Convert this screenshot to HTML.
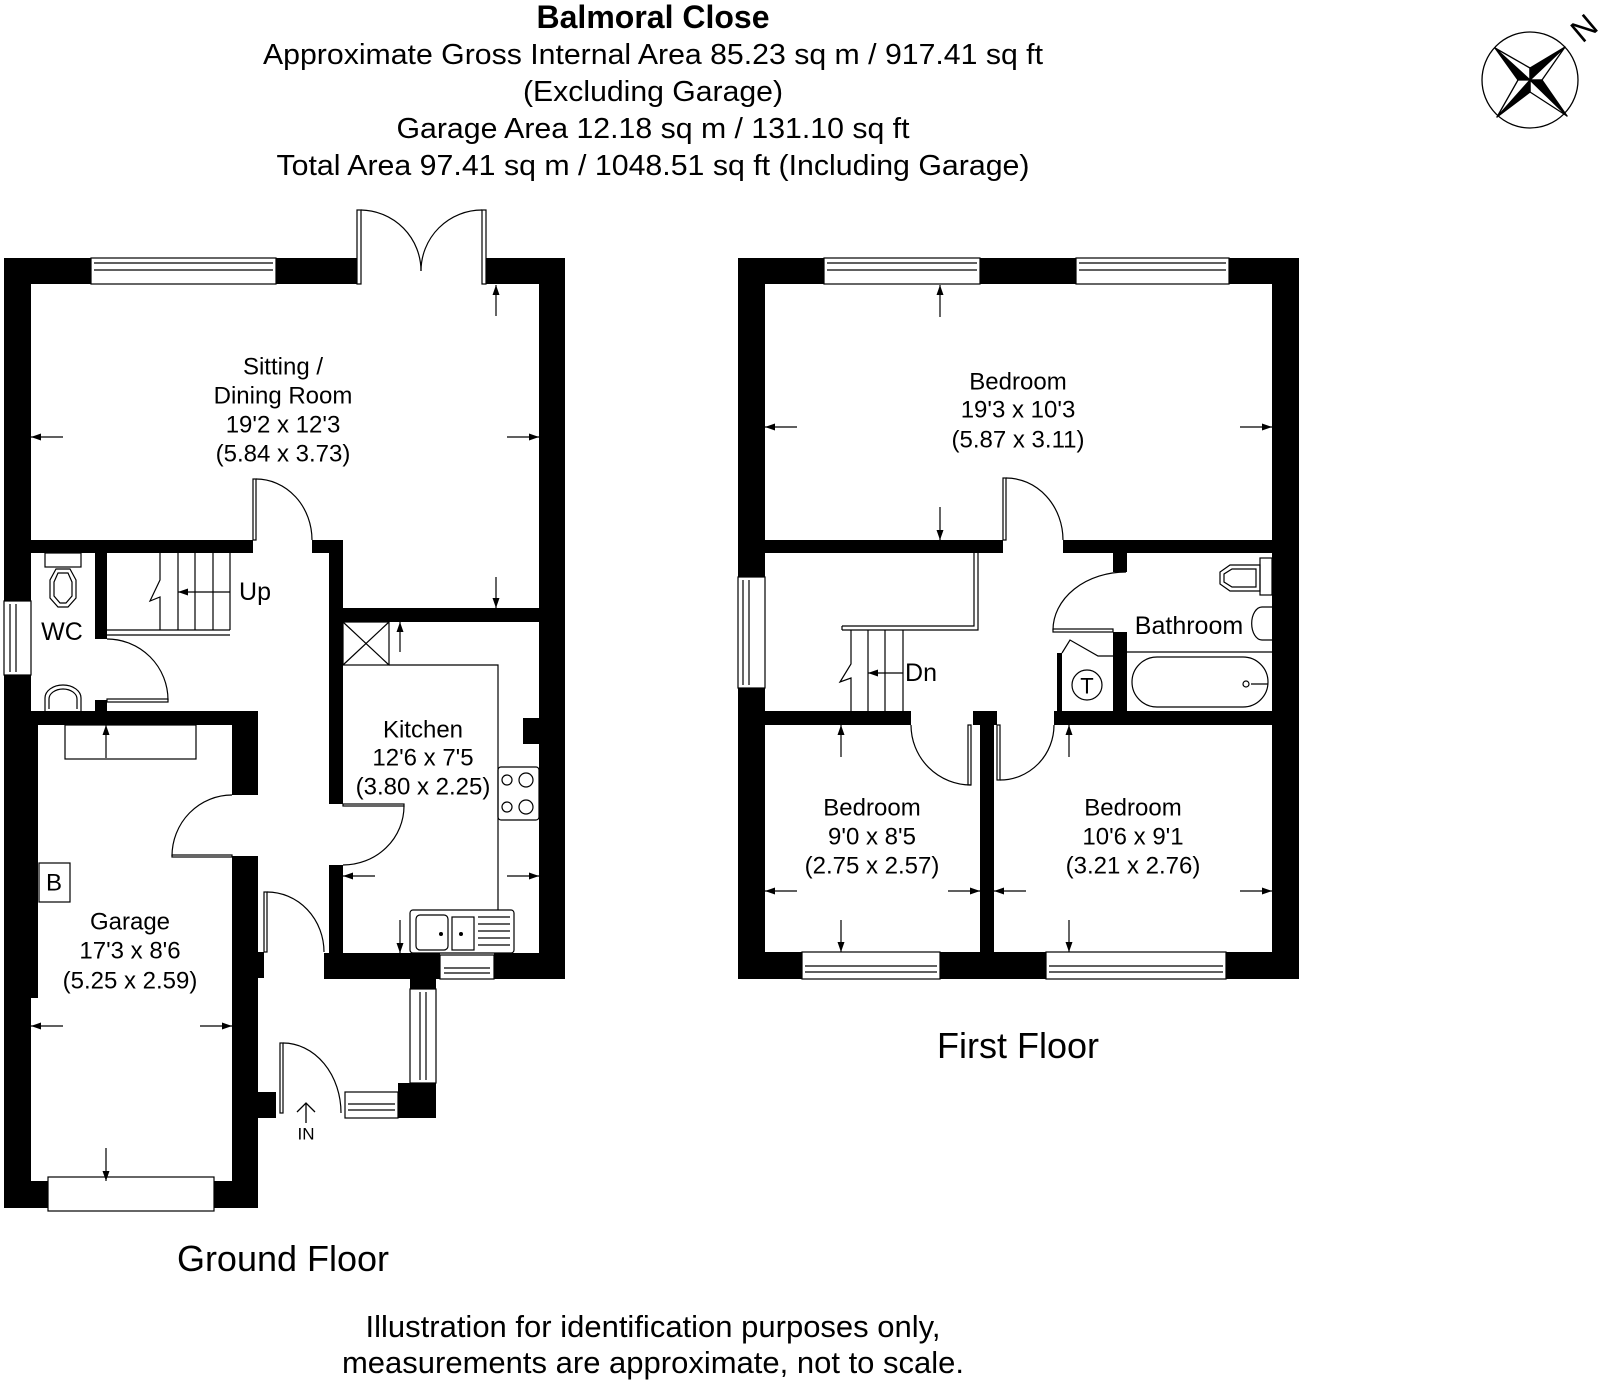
<!DOCTYPE html>
<html><head><meta charset="utf-8"><style>
html,body{margin:0;padding:0;background:#fff;}
svg{display:block;}
text{font-family:"Liberation Sans",Arial,sans-serif;fill:#000;}
</style></head><body>
<svg width="1608" height="1384" viewBox="0 0 1608 1384" xmlns="http://www.w3.org/2000/svg">
<defs>
<marker id="ah" viewBox="0 0 10 10" refX="10" refY="5" markerWidth="10" markerHeight="10" markerUnits="userSpaceOnUse" orient="auto"><path d="M0,1.5 L10,5 L0,8.5 z" fill="#000"/></marker>
</defs>
<rect width="1608" height="1384" fill="#fff"/>

<!-- Titles -->
<g text-anchor="middle">
<text x="653" y="28" font-size="32" font-weight="bold">Balmoral Close</text>
<text x="653" y="64" font-size="29" textLength="780" lengthAdjust="spacingAndGlyphs">Approximate Gross Internal Area 85.23 sq m / 917.41 sq ft</text>
<text x="653" y="101" font-size="29" textLength="260" lengthAdjust="spacingAndGlyphs">(Excluding Garage)</text>
<text x="653" y="138" font-size="29" textLength="513" lengthAdjust="spacingAndGlyphs">Garage Area 12.18 sq m / 131.10 sq ft</text>
<text x="653" y="175" font-size="29" textLength="753" lengthAdjust="spacingAndGlyphs">Total Area 97.41 sq m / 1048.51 sq ft (Including Garage)</text>
<text x="283" y="1271" font-size="36">Ground Floor</text>
<text x="1018" y="1058" font-size="36">First Floor</text>
<text x="653" y="1337" font-size="31">Illustration for identification purposes only,</text>
<text x="653" y="1373" font-size="31">measurements are approximate, not to scale.</text>
</g>

<!-- Compass -->
<g stroke="#000" stroke-width="1.3" stroke-linejoin="round">
<circle cx="1530" cy="80" r="48" fill="none"/>
<polygon points="1530,80 1495,48 1518,80" fill="#000"/>
<polygon points="1530,80 1495,48 1530,68" fill="#fff"/>
<polygon points="1530,80 1565,47 1530,68" fill="#000"/>
<polygon points="1530,80 1565,47 1542,80" fill="#fff"/>
<polygon points="1530,80 1567,116 1542,80" fill="#000"/>
<polygon points="1530,80 1567,116 1530,92" fill="#fff"/>
<polygon points="1530,80 1497,117 1530,92" fill="#000"/>
<polygon points="1530,80 1497,117 1518,80" fill="#fff"/>
</g>
<text x="1584" y="28" font-size="32" transform="rotate(-40 1584 28)" text-anchor="middle" dominant-baseline="central">N</text>

<!-- ================= GROUND FLOOR ================= -->
<g fill="#000">
<rect x="4" y="258" width="87" height="26"/>
<rect x="276" y="258" width="81" height="26"/>
<rect x="486" y="258" width="79" height="26"/>
<rect x="539" y="258" width="26" height="721"/>
<rect x="4" y="258" width="27" height="343"/>
<rect x="4" y="675" width="27" height="533"/>
<rect x="31" y="725" width="7" height="273"/>
<rect x="31" y="540" width="222" height="13"/>
<rect x="312" y="540" width="31" height="13"/>
<rect x="95" y="553" width="12" height="86"/>
<rect x="95" y="700" width="12" height="11"/>
<rect x="4" y="711" width="254" height="14"/>
<rect x="232" y="711" width="26" height="84"/>
<rect x="232" y="856" width="26" height="352"/>
<rect x="258" y="952" width="6" height="26"/>
<rect x="4" y="1181" width="44" height="27"/>
<rect x="214" y="1181" width="44" height="27"/>
<rect x="258" y="1092" width="18" height="26"/>
<rect x="329" y="540" width="14" height="264"/>
<rect x="329" y="865" width="14" height="100"/>
<rect x="343" y="608" width="196" height="14"/>
<rect x="523" y="718" width="16" height="26"/>
<rect x="324" y="953" width="116" height="26"/>
<rect x="494" y="953" width="71" height="26"/>
<rect x="410" y="979" width="26" height="10"/>
<rect x="398" y="1083" width="38" height="35"/>
</g>
<g fill="none" stroke="#000" stroke-width="1.2">
<rect x="91" y="258" width="185" height="26"/>
<line x1="94" y1="263" x2="273" y2="263"/><line x1="94" y1="270" x2="273" y2="270"/>
<rect x="357" y="210" width="4" height="74"/>
<rect x="482" y="210" width="4" height="74"/>
<path d="M361,210 A61,61 0 0 1 421,271"/>
<path d="M482,210 A61,61 0 0 0 421,271"/>
<rect x="4" y="601" width="27" height="74"/>
<line x1="10" y1="604" x2="10" y2="672"/><line x1="16" y1="604" x2="16" y2="672"/>
<rect x="253" y="479" width="3" height="61"/>
<path d="M256,479 A56,61 0 0 1 312,540"/>
<rect x="45" y="553" width="36" height="14"/>
<path d="M56,569 L70,569 L76,580 L76,598 L68,607 L58,607 L50,598 L50,580 Z"/>
<path d="M58,573 L68,573 L72,582 L72,596 L66,603 L60,603 L54,596 L54,582 Z"/>
<path d="M45,711 L45,698 A18,13 0 0 1 81,698 L81,711"/>
<path d="M49,709 L49,699 A14,10 0 0 1 77,699 L77,709"/>
<line x1="107" y1="630" x2="230" y2="630"/><line x1="107" y1="635" x2="230" y2="635"/>
<line x1="178" y1="553" x2="178" y2="630"/><line x1="195" y1="553" x2="195" y2="630"/>
<line x1="213" y1="553" x2="213" y2="630"/><line x1="230" y1="553" x2="230" y2="630"/>
<path d="M160,553 L160,580 L150,601 L160,597 L160,630"/>
<line x1="230" y1="592" x2="178" y2="592" marker-end="url(#ah)"/>
<rect x="107" y="699" width="61" height="3"/>
<path d="M107,639 A61,61 0 0 1 168,700"/>
<rect x="65" y="725" width="131" height="34"/>
<rect x="172" y="855" width="60" height="2"/>
<path d="M172,856 A60,61 0 0 1 232,795"/>
<rect x="343" y="804" width="61" height="2"/>
<path d="M404,806 A61,59 0 0 1 343,865"/>
<rect x="343" y="622" width="46" height="43"/>
<line x1="343" y1="622" x2="389" y2="665"/><line x1="389" y1="622" x2="343" y2="665"/>
<polyline points="389,665 498,665 498,910"/>
<rect x="498" y="767" width="41" height="53" rx="3"/>
<circle cx="507" cy="780" r="5"/><circle cx="526" cy="780" r="7"/>
<circle cx="507" cy="807" r="5"/><circle cx="526" cy="807" r="7"/>
<rect x="410" y="910" width="104" height="43" rx="3"/>
<rect x="416" y="915" width="32" height="35" rx="4"/>
<rect x="452" y="917" width="22" height="33"/>
<line x1="478" y1="917" x2="510" y2="917"/><line x1="478" y1="924" x2="510" y2="924"/>
<line x1="478" y1="931" x2="510" y2="931"/><line x1="478" y1="938" x2="510" y2="938"/>
<line x1="478" y1="945" x2="510" y2="945"/>
<rect x="440" y="955" width="54" height="24"/>
<line x1="444" y1="968" x2="490" y2="968"/><line x1="444" y1="973" x2="490" y2="973"/>
<rect x="39" y="863" width="31" height="39"/>
<rect x="264" y="892" width="3" height="60"/>
<path d="M267,892 A57,60 0 0 1 324,952"/>
<rect x="410" y="989" width="26" height="94"/>
<line x1="420" y1="992" x2="420" y2="1080"/><line x1="426" y1="992" x2="426" y2="1080"/>
<rect x="345" y="1092" width="53" height="26"/>
<line x1="348" y1="1104" x2="395" y2="1104"/><line x1="348" y1="1110" x2="395" y2="1110"/>
<rect x="280" y="1043" width="3" height="70"/>
<path d="M283,1043 A58,70 0 0 1 341,1113"/>
<rect x="48" y="1177" width="166" height="34"/>
</g>
<g stroke="#000" stroke-width="1.3" fill="none">
<line x1="306" y1="1123" x2="306" y2="1103"/>
<polyline points="297,1112 306,1103 315,1112"/>
</g>
<g fill="#000">
<circle cx="441" cy="934" r="2"/><circle cx="461" cy="934" r="2"/>
</g>
<g stroke="#000" stroke-width="1.2">
<line x1="496" y1="316" x2="496" y2="285" marker-end="url(#ah)"/>
<line x1="63" y1="437" x2="31" y2="437" marker-end="url(#ah)"/>
<line x1="507" y1="437" x2="539" y2="437" marker-end="url(#ah)"/>
<line x1="496" y1="577" x2="496" y2="608" marker-end="url(#ah)"/>
<line x1="400" y1="652" x2="400" y2="622" marker-end="url(#ah)"/>
<line x1="106" y1="758" x2="106" y2="725" marker-end="url(#ah)"/>
<line x1="375" y1="876" x2="343" y2="876" marker-end="url(#ah)"/>
<line x1="507" y1="876" x2="539" y2="876" marker-end="url(#ah)"/>
<line x1="400" y1="920" x2="400" y2="953" marker-end="url(#ah)"/>
<line x1="63" y1="1026" x2="31" y2="1026" marker-end="url(#ah)"/>
<line x1="200" y1="1026" x2="232" y2="1026" marker-end="url(#ah)"/>
<line x1="106" y1="1148" x2="106" y2="1181" marker-end="url(#ah)"/>
</g>
<g font-size="24" text-anchor="middle" dominant-baseline="central">
<text x="283" y="367">Sitting /</text>
<text x="283" y="396">Dining Room</text>
<text x="283" y="425">19'2 x 12'3</text>
<text x="283" y="454">(5.84 x 3.73)</text>
<text x="62" y="632" font-size="25">WC</text>
<text x="255" y="592" font-size="25">Up</text>
<text x="423" y="730">Kitchen</text>
<text x="423" y="758">12'6 x 7'5</text>
<text x="423" y="787">(3.80 x 2.25)</text>
<text x="54" y="883">B</text>
<text x="130" y="922">Garage</text>
<text x="130" y="951">17'3 x 8'6</text>
<text x="130" y="981">(5.25 x 2.59)</text>
<text x="306" y="1134" font-size="17">IN</text>
</g>

<!-- ================= FIRST FLOOR ================= -->
<g fill="#000">
<rect x="738" y="258" width="86" height="26"/>
<rect x="980" y="258" width="96" height="26"/>
<rect x="1229" y="258" width="70" height="26"/>
<rect x="1272" y="258" width="27" height="721"/>
<rect x="738" y="258" width="27" height="319"/>
<rect x="738" y="688" width="27" height="291"/>
<rect x="738" y="952" width="64" height="27"/>
<rect x="940" y="952" width="106" height="27"/>
<rect x="1226" y="952" width="73" height="27"/>
<rect x="765" y="540" width="238" height="13"/>
<rect x="1063" y="540" width="209" height="13"/>
<rect x="1113" y="553" width="14" height="19"/>
<rect x="1113" y="632" width="14" height="79"/>
<rect x="1057" y="653" width="5" height="58"/>
<rect x="765" y="711" width="146" height="14"/>
<rect x="973" y="711" width="24" height="14"/>
<rect x="1054" y="711" width="218" height="14"/>
<rect x="980" y="711" width="14" height="241"/>
</g>
<g fill="none" stroke="#000" stroke-width="1.2">
<rect x="824" y="258" width="156" height="26"/>
<line x1="827" y1="263" x2="977" y2="263"/><line x1="827" y1="270" x2="977" y2="270"/>
<rect x="1076" y="258" width="153" height="26"/>
<line x1="1079" y1="263" x2="1226" y2="263"/><line x1="1079" y1="270" x2="1226" y2="270"/>
<rect x="738" y="577" width="27" height="111"/>
<line x1="743" y1="580" x2="743" y2="685"/><line x1="749" y1="580" x2="749" y2="685"/>
<rect x="802" y="952" width="138" height="27"/>
<line x1="805" y1="966" x2="937" y2="966"/><line x1="805" y1="972" x2="937" y2="972"/>
<rect x="1046" y="952" width="180" height="27"/>
<line x1="1049" y1="966" x2="1223" y2="966"/><line x1="1049" y1="972" x2="1223" y2="972"/>
<rect x="1003" y="478" width="3" height="62"/>
<path d="M1006,478 A57,62 0 0 1 1063,540"/>
<polyline points="978,553 978,630 842,630"/>
<polyline points="974,553 974,626 842,626"/>
<line x1="842" y1="626" x2="842" y2="630"/>
<line x1="868" y1="630" x2="868" y2="711"/><line x1="885" y1="630" x2="885" y2="711"/>
<line x1="903" y1="630" x2="903" y2="711"/>
<path d="M851,630 L851,664 L840,682 L851,678 L851,711"/>
<line x1="903" y1="673" x2="868" y2="673" marker-end="url(#ah)"/>
<rect x="1053" y="629" width="60" height="3"/>
<path d="M1126,572 A73,58 0 0 0 1053,630"/>
<polyline points="1062,653 1070,640 1098,656 1113,656"/>
<circle cx="1087" cy="685" r="15"/>
<rect x="1260" y="558" width="12" height="37"/>
<path d="M1260,565 L1230,565 L1220,572 L1220,584 L1230,591 L1260,591 Z"/>
<path d="M1256,569 L1232,569 L1224,574 L1224,582 L1232,587 L1256,587 Z"/>
<path d="M1272,607 L1262,607 A10,16 0 0 0 1262,640 L1272,640"/>
<line x1="1127" y1="652" x2="1272" y2="652"/>
<rect x="1132" y="657" width="136" height="50" rx="25"/>
<circle cx="1246" cy="684" r="3"/>
<line x1="1251" y1="684" x2="1268" y2="684"/>
<rect x="968" y="725" width="3" height="60"/>
<path d="M911,725 A60,60 0 0 0 971,785"/>
<rect x="997" y="725" width="3" height="55"/>
<path d="M1054,725 A54,55 0 0 1 1000,780"/>
</g>
<g stroke="#000" stroke-width="1.2">
<line x1="940" y1="317" x2="940" y2="285" marker-end="url(#ah)"/>
<line x1="797" y1="427" x2="765" y2="427" marker-end="url(#ah)"/>
<line x1="1240" y1="427" x2="1272" y2="427" marker-end="url(#ah)"/>
<line x1="940" y1="507" x2="940" y2="540" marker-end="url(#ah)"/>
<line x1="841" y1="757" x2="841" y2="725" marker-end="url(#ah)"/>
<line x1="841" y1="920" x2="841" y2="952" marker-end="url(#ah)"/>
<line x1="797" y1="891" x2="765" y2="891" marker-end="url(#ah)"/>
<line x1="948" y1="891" x2="980" y2="891" marker-end="url(#ah)"/>
<line x1="1069" y1="757" x2="1069" y2="725" marker-end="url(#ah)"/>
<line x1="1069" y1="920" x2="1069" y2="952" marker-end="url(#ah)"/>
<line x1="1026" y1="891" x2="994" y2="891" marker-end="url(#ah)"/>
<line x1="1240" y1="891" x2="1272" y2="891" marker-end="url(#ah)"/>
</g>
<g font-size="24" text-anchor="middle" dominant-baseline="central">
<text x="1018" y="382">Bedroom</text>
<text x="1018" y="410">19'3 x 10'3</text>
<text x="1018" y="440">(5.87 x 3.11)</text>
<text x="1189" y="626" font-size="25">Bathroom</text>
<text x="921" y="673" font-size="25">Dn</text>
<text x="1087" y="686" font-size="22">T</text>
<text x="872" y="808">Bedroom</text>
<text x="872" y="837">9'0 x 8'5</text>
<text x="872" y="866">(2.75 x 2.57)</text>
<text x="1133" y="808">Bedroom</text>
<text x="1133" y="837">10'6 x 9'1</text>
<text x="1133" y="866">(3.21 x 2.76)</text>
</g>
</svg>
</body></html>
